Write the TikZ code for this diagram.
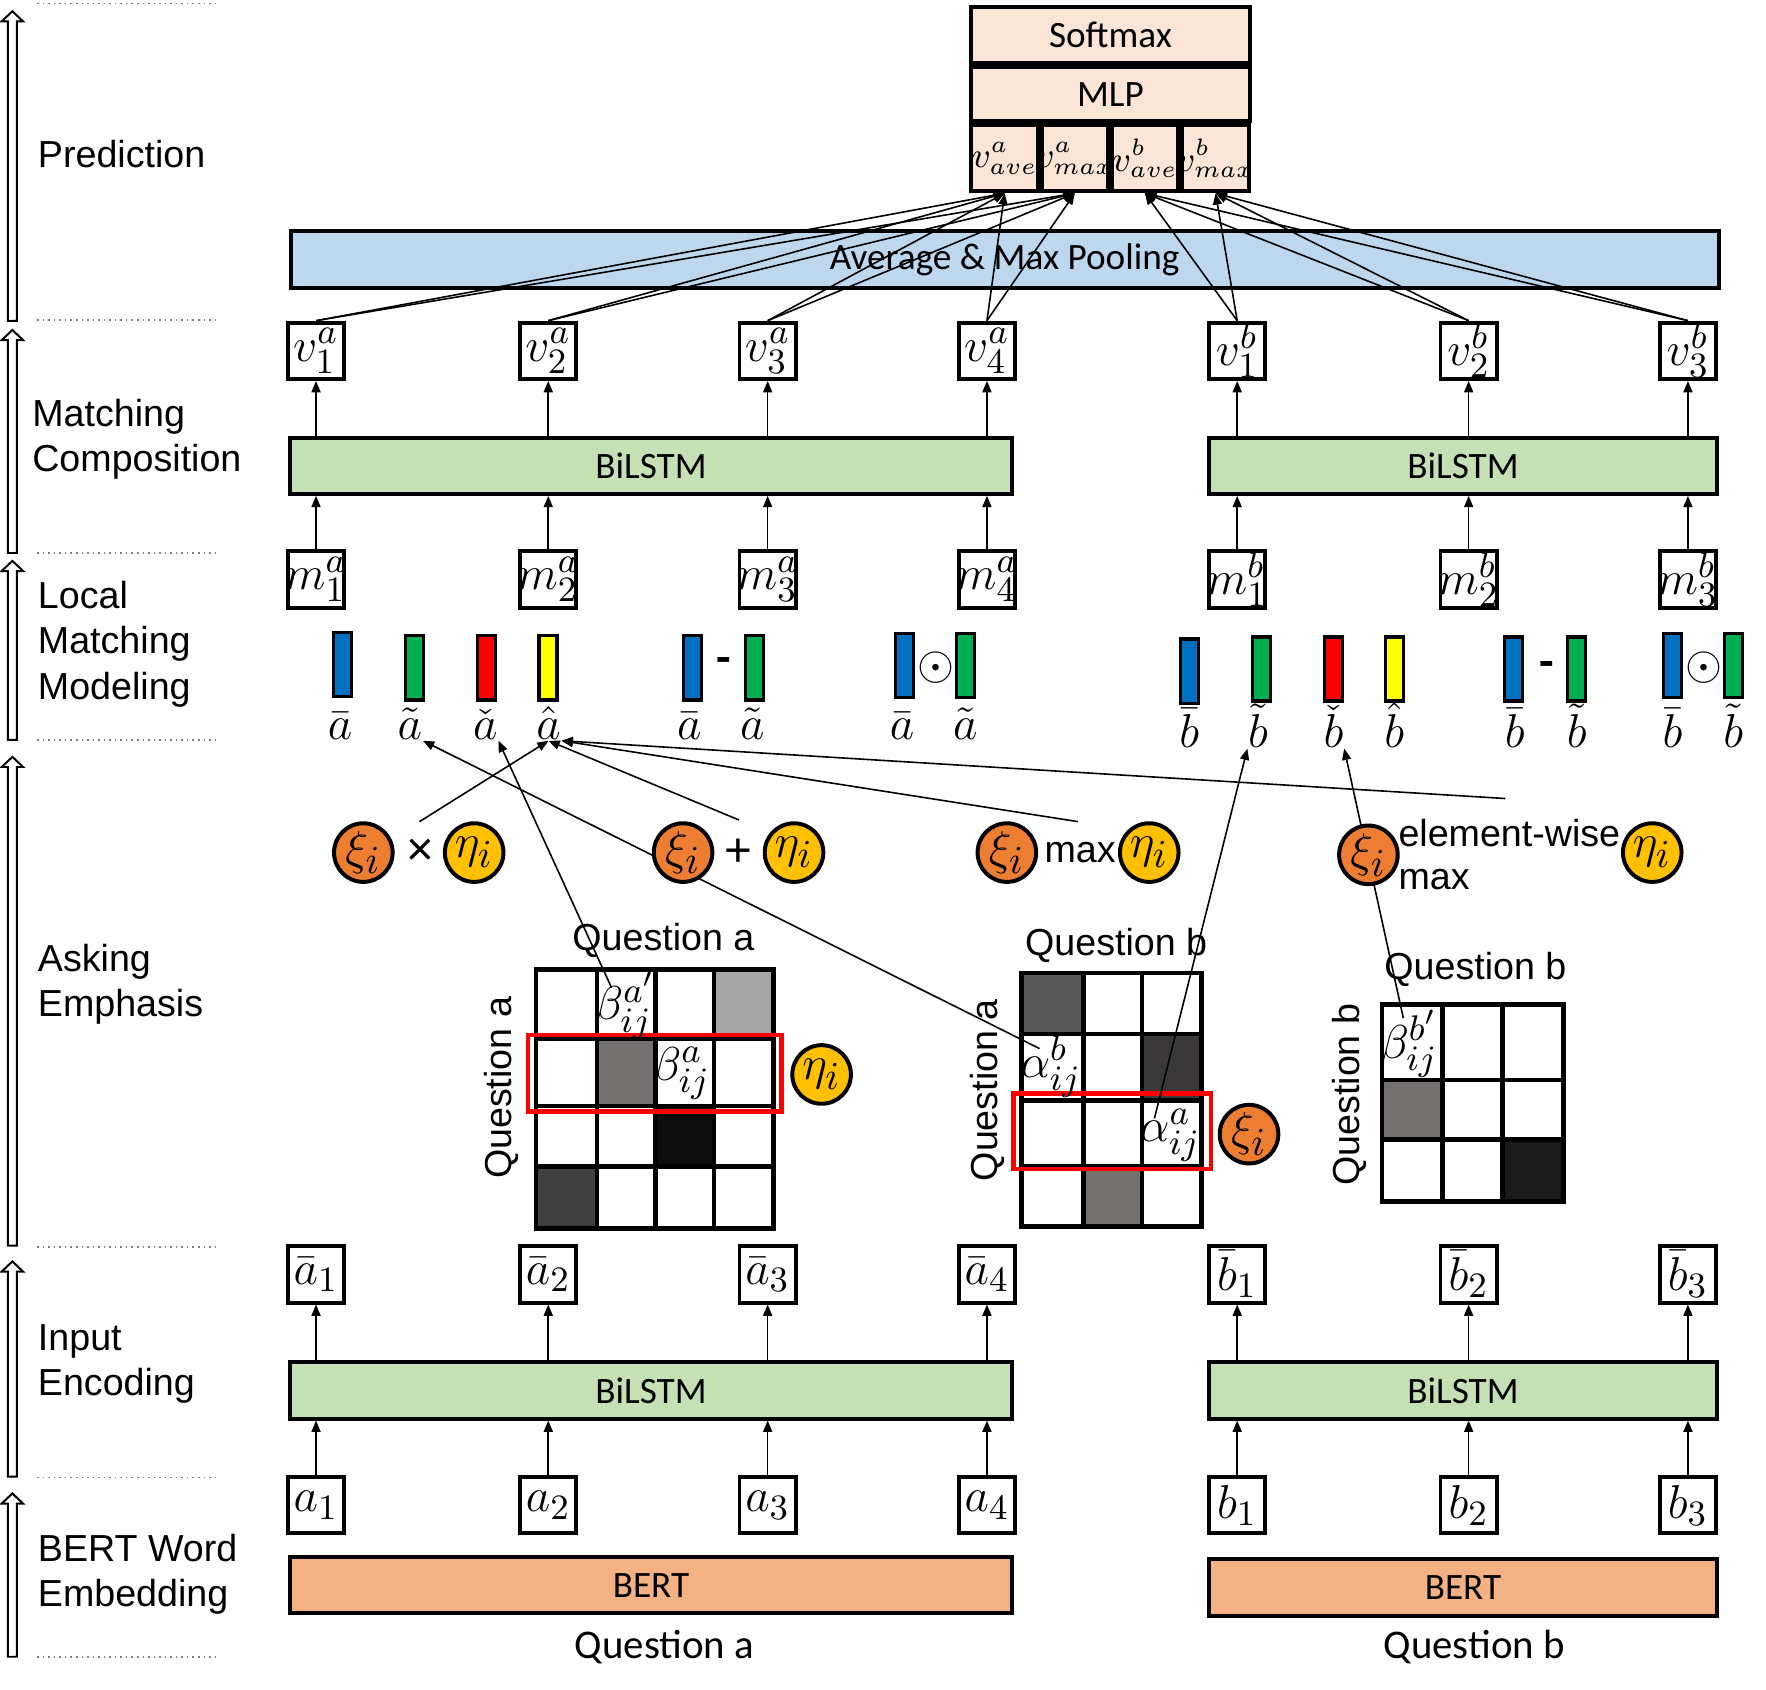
\documentclass[tikz,border=0pt]{standalone}
\usepackage{fontspec}
\newfontfamily\arialf{Liberation Sans}
\newfontfamily\calf{Carlito}
\DeclareMathSizes{9}{9}{6.5}{5}
\DeclareMathSizes{12}{12}{9}{7}
\DeclareMathSizes{13}{13}{10}{7}
\newcommand\zwbox[1]{\makebox[0pt]{#1}}
\usetikzlibrary{arrows.meta}
\definecolor{peach}{HTML}{FBE5D6}
\definecolor{pool}{HTML}{BDD7EE}
\definecolor{lstm}{HTML}{C5E0B4}
\definecolor{bert}{HTML}{F4B183}
\definecolor{cblue}{HTML}{0070C0}
\definecolor{cgreen}{HTML}{00B050}
\definecolor{cred}{HTML}{FF0000}
\definecolor{cyellow}{HTML}{FFFF00}
\definecolor{xiorange}{HTML}{ED7D31}
\definecolor{etagold}{HTML}{FFC000}
\definecolor{gA}{HTML}{A6A6A6}
\definecolor{gB}{HTML}{767171}
\definecolor{gC}{HTML}{0D0D0D}
\definecolor{gD}{HTML}{404040}
\definecolor{gE}{HTML}{595959}
\definecolor{gF}{HTML}{3A3838}
\definecolor{gG}{HTML}{1A1A1A}
\begin{document}
\begin{tikzpicture}[x=0.01cm,y=-0.01cm,
 vb/.style={draw,line width=1pt,fill=white,inner sep=0pt,minimum width=0.5cm,minimum height=0.5cm,font=\fontsize{12}{14}\selectfont},
 wb/.style={draw,line width=1pt,inner sep=0pt,minimum height=0.5cm,font=\calf\fontsize{9.4}{11}\selectfont},
 pb/.style={wb,fill=peach},
 lab/.style={anchor=west,align=left,inner sep=0pt,font=\arialf\fontsize{9.5}{11.4}\selectfont},
 txt/.style={inner sep=0pt,font=\arialf\fontsize{9.5}{11.4}\selectfont},
 cb/.style={draw,line width=0.85pt,inner sep=0pt,minimum width=0.16cm,minimum height=0.57cm},
 bl/.style={anchor=base,inner sep=0pt,font=\fontsize{12}{14}\selectfont},
 xic/.style={circle,draw,line width=1pt,fill=xiorange,inner sep=0pt,minimum size=0.52cm,font=\fontsize{13}{15}\selectfont},
 etac/.style={xic,fill=etagold},
 arr/.style={-{Triangle[length=0.1cm,width=0.08cm]},line width=0.4pt},
 mg/.style={line width=1.2pt},
 cellm/.style={inner sep=0pt,font=\fontsize{12}{14}\selectfont},
 dotl/.style={gray,line width=0.4pt,densely dotted},
 hol/.style={draw,line width=0.5pt,fill=white},
 opn/.style={inner sep=0pt,font=\arialf\fontsize{12}{14}\selectfont},
 vc/.style={pb,minimum width=0.59cm,minimum height=0.585cm,font=\fontsize{9}{11}\selectfont}
]
\useasboundingbox (0,0) rectangle (1568,1500);

% ---- left column: hollow arrows, dotted separators, labels
\foreach \yb/\yt in {285/10, 491/293, 657/498, 1106/672, 1311/1120, 1471/1326}{
  \draw[hol] (7,\yb) -- (7,\yt+9) -- (1.5,\yt+9) -- (11,\yt) -- (20.5,\yt+9) -- (15,\yt+9) -- (15,\yb) -- cycle;
}
\foreach \y in {3,284,491,657,1107,1312,1471}{
  \draw[dotl] (33,\y) -- (191,\y);
}
\node[lab] (lPred) at (33,137) {Prediction};
\node[lab] (lMC) at (28,390) {Matching\\Composition};
\node[lab] (lLMM) at (33,572) {Local\\Matching\\Modeling};
\node[lab] (lAE) at (33,874) {Asking\\Emphasis};
\node[lab] (lIE) at (33,1211) {Input\\Encoding};
\node[lab] (lBW) at (33,1398) {BERT Word\\Embedding};

% ---- prediction block
\node[pb,minimum width=2.47cm] (soft) at (986,31) {Softmax};
\node[pb,minimum width=2.47cm,minimum height=0.48cm] (mlp) at (986,83.6) {MLP};
\node[vc] (vavea) at (892,140.6) {\zwbox{$v^{a}_{ave}$}};
\node[vc] (vmaxa) at (954.3,140.6) {\zwbox{$v^{a}_{max}$}};
\node[vc] (vaveb) at (1016.6,140.6) {\zwbox{$v^{b}_{ave}$}};
\node[vc] (vmaxb) at (1079.3,140.6) {\zwbox{$v^{b}_{max}$}};

\node[wb,fill=pool,minimum width=12.67cm] (pool) at (892,230.5) {Average \& Max Pooling};

% ---- matching composition
\node[vb] (va1) at (280.6,311.5) {\zwbox{$v^a_1$}};
\node[vb] (va2) at (486.8,311.5) {\zwbox{$v^a_2$}};
\node[vb] (va3) at (681.6,311.5) {\zwbox{$v^a_3$}};
\node[vb] (va4) at (876.3,311.5) {\zwbox{$v^a_4$}};
\node[vb] (vb1) at (1098.5,311.5) {\zwbox{$v^b_1$}};
\node[vb] (vb2) at (1304,311.5) {\zwbox{$v^b_2$}};
\node[vb] (vb3) at (1498.7,311.5) {\zwbox{$v^b_3$}};

\node[wb,fill=lstm,minimum width=6.41cm] (lstmA) at (578,413.5) {BiLSTM};
\node[wb,fill=lstm,minimum width=4.5cm] (lstmB) at (1299,413.5) {BiLSTM};

\node[vb] (ma1) at (280.6,514.5) {\zwbox{$m^a_1$}};
\node[vb] (ma2) at (486.8,514.5) {\zwbox{$m^a_2$}};
\node[vb] (ma3) at (681.6,514.5) {\zwbox{$m^a_3$}};
\node[vb] (ma4) at (876.3,514.5) {\zwbox{$m^a_4$}};
\node[vb] (mb1) at (1098.5,514.5) {\zwbox{$m^b_1$}};
\node[vb] (mb2) at (1304,514.5) {\zwbox{$m^b_2$}};
\node[vb] (mb3) at (1498.7,514.5) {\zwbox{$m^b_3$}};

\foreach \i in {1,2,3,4}{
  \draw[arr] (va\i.south |- lstmA.north) -- (va\i.south);
  \draw[arr] (ma\i.north) -- (ma\i.north |- lstmA.south);
}
\foreach \i in {1,2,3}{
  \draw[arr] (vb\i.south |- lstmB.north) -- (vb\i.south);
  \draw[arr] (mb\i.north) -- (mb\i.north |- lstmB.south);
}

% ---- local matching bars
\node[cb,fill=cblue] (bA1) at (304,590) {};
\node[cb,fill=cgreen] (bA2) at (368,593) {};
\node[cb,fill=cred] (bA3) at (432,593) {};
\node[cb,fill=cyellow] (bA4) at (486.7,593) {};
\node[cb,fill=cblue] (bA5) at (615,593) {};
\node[cb,fill=cgreen] (bA6) at (670,593) {};
\node[cb,fill=cblue] (bA7) at (803,591) {};
\node[cb,fill=cgreen] (bA8) at (857.5,591) {};
\node[opn,font=\calf\bfseries\fontsize{12}{14}\selectfont] (mnA) at (643,591) {-};
\node[opn,font=\fontsize{13}{15}\selectfont] (odA) at (831,593) {$\odot$};

\node[cb,fill=cblue] (bB1) at (1056,596) {};
\node[cb,fill=cgreen] (bB2) at (1120,594) {};
\node[cb,fill=cred] (bB3) at (1184,594) {};
\node[cb,fill=cyellow] (bB4) at (1238,594) {};
\node[cb,fill=cblue] (bB5) at (1344,594) {};
\node[cb,fill=cgreen] (bB6) at (1400,594) {};
\node[cb,fill=cblue] (bB7) at (1485,591) {};
\node[cb,fill=cgreen] (bB8) at (1539.4,591) {};
\node[opn,font=\calf\bfseries\fontsize{12}{14}\selectfont] (mnB) at (1373.5,594) {-};
\node[opn,font=\fontsize{13}{15}\selectfont] (odB) at (1513,593) {$\odot$};

\node[bl] (la1) at (302,657) {$\bar a$};
\node[bl] (la2) at (364,657) {$\tilde a$};
\node[bl] (la3) at (431,657) {$\check a$};
\node[bl] (la4) at (487,657) {$\hat a$};
\node[bl] (la5) at (612,657) {$\bar a$};
\node[bl] (la6) at (668,657) {$\tilde a$};
\node[bl] (la7) at (801,657) {$\bar a$};
\node[bl] (la8) at (857,657) {$\tilde a$};
\node[bl] (lb1) at (1056,664) {$\bar b$};
\node[bl] (lb2) at (1117,664) {$\tilde b$};
\node[bl] (lb3) at (1184,664) {$\check b$};
\node[bl] (lb4) at (1238,664) {$\hat b$};
\node[bl] (lb5) at (1345,664) {$\bar b$};
\node[bl] (lb6) at (1400,664) {$\tilde b$};
\node[bl] (lb7) at (1485,664) {$\bar b$};
\node[bl] (lb8) at (1539,664) {$\tilde b$};

% ---- matrices
% matrix 1
\fill[gA] (634,861) rectangle (687,922);
\fill[gB] (530,922) rectangle (582,982);
\fill[gC] (582,982) rectangle (634,1036);
\fill[gD] (476,1036) rectangle (530,1091);
\draw[mg] (476,861) rectangle (687,1091);
\foreach \x in {530,582,634}{\draw[mg] (\x,861) -- (\x,1091);}
\foreach \y in {922,982,1036}{\draw[mg] (476,\y) -- (687,\y);}
\draw[red,line width=1.1pt] (469,919) rectangle (694,987);
% matrix 2
\fill[gE] (907,864) rectangle (962,918);
\fill[gF] (1014,918) rectangle (1067,977);
\fill[gB] (962,1036) rectangle (1014,1089);
\draw[mg] (907,864) rectangle (1067,1089);
\foreach \x in {962,1014}{\draw[mg] (\x,864) -- (\x,1089);}
\foreach \y in {918,977,1036}{\draw[mg] (907,\y) -- (1067,\y);}
\draw[red,line width=1.1pt] (900,971) rectangle (1075,1038);
% matrix 3
\fill[gB] (1227,959) rectangle (1281,1012);
\fill[gG] (1334,1012) rectangle (1388,1067);
\draw[mg] (1227,892) rectangle (1388,1067);
\foreach \x in {1281,1334}{\draw[mg] (\x,892) -- (\x,1067);}
\foreach \y in {959,1012}{\draw[mg] (1227,\y) -- (1388,\y);}

\node[cellm] (bap) at (555,893) {\zwbox{$\beta^{a'}_{ij}$}};
\node[cellm] (ba) at (605,953) {\zwbox{$\beta^{a}_{ij}$}};
\node[cellm] (ab) at (933,947) {\zwbox{$\alpha^{b}_{ij}$}};
\node[cellm] (aa) at (1039,1008) {\zwbox{$\alpha^{a}_{ij}$}};
\node[cellm] (bbp) at (1251,927) {\zwbox{$\beta^{b'}_{ij}$}};

\node[txt] (t1) at (589,835) {Question a};
\node[txt,rotate=90] (r1) at (445,966) {Question a};
\node[txt] (t2) at (991,839) {Question b};
\node[txt,rotate=90] (r2) at (877,968) {Question a};
\node[txt] (t3) at (1310,861) {Question b};
\node[txt,rotate=90] (r3) at (1198,972) {Question b};

% ---- input encoding
\node[vb] (ba1) at (280.6,1131.5) {\zwbox{$\bar a_1$}};
\node[vb] (ba2) at (486.8,1131.5) {\zwbox{$\bar a_2$}};
\node[vb] (ba3) at (681.6,1131.5) {\zwbox{$\bar a_3$}};
\node[vb] (ba4) at (876.3,1131.5) {\zwbox{$\bar a_4$}};
\node[vb] (bb1) at (1098.5,1131.5) {\zwbox{$\bar b_1$}};
\node[vb] (bb2) at (1304,1131.5) {\zwbox{$\bar b_2$}};
\node[vb] (bb3) at (1498.7,1131.5) {\zwbox{$\bar b_3$}};
\node[wb,fill=lstm,minimum width=6.41cm] (lstmA2) at (578,1234.5) {BiLSTM};
\node[wb,fill=lstm,minimum width=4.5cm] (lstmB2) at (1299,1234.5) {BiLSTM};
\node[vb] (a1) at (280.6,1336.5) {\zwbox{$a_1$}};
\node[vb] (a2) at (486.8,1336.5) {\zwbox{$a_2$}};
\node[vb] (a3) at (681.6,1336.5) {\zwbox{$a_3$}};
\node[vb] (a4) at (876.3,1336.5) {\zwbox{$a_4$}};
\node[vb] (b1) at (1098.5,1336.5) {\zwbox{$b_1$}};
\node[vb] (b2) at (1304,1336.5) {\zwbox{$b_2$}};
\node[vb] (b3) at (1498.7,1336.5) {\zwbox{$b_3$}};
\node[wb,fill=bert,minimum width=6.41cm] (bertA) at (578,1407.5) {BERT};
\node[wb,fill=bert,minimum width=4.5cm] (bertB) at (1299,1409.5) {BERT};
\node[inner sep=0pt,font=\calf\fontsize{10.3}{12}\selectfont] (qa) at (590,1462) {Question a};
\node[inner sep=0pt,font=\calf\fontsize{10.3}{12}\selectfont] (qb) at (1309,1462) {Question b};

\foreach \i in {1,2,3,4}{
  \draw[arr] (ba\i.south |- lstmA2.north) -- (ba\i.south);
  \draw[arr] (a\i.north) -- (a\i.north |- lstmA2.south);
}
\foreach \i in {1,2,3}{
  \draw[arr] (bb\i.south |- lstmB2.north) -- (bb\i.south);
  \draw[arr] (b\i.north) -- (b\i.north |- lstmB2.south);
}

% ---- pooling connectors
\foreach \i in {1,2,3,4}{
  \draw[arr] (va\i.north) -- (vavea.south);
  \draw[arr] (va\i.north) -- (vmaxa.south);
}
\foreach \i in {1,2,3}{
  \draw[arr] (vb\i.north) -- (vaveb.south);
  \draw[arr] (vb\i.north) -- (vmaxb.south);
}

% ---- asking emphasis connectors
\coordinate (sx) at (372.5,729.5);
\coordinate (sp) at (656,728);
\coordinate (sm) at (957,729.5);
\coordinate (se) at (1336.5,709);
\coordinate (sbap) at (543,877);
\coordinate (sab) at (923,931);
\coordinate (saa) at (1025,993);
\coordinate (sbbp) at (1246,904);
\draw[arr] (sx) -- (la4.south);
\draw[arr] (sp) -- (la4.south);
\draw[arr] (sm) -- (la4.south east);
\draw[arr] (se) -- (la4.south east);
\draw[arr] (sab) -- (la2.south east);
\draw[arr] (sbap) -- (la3.south east);
\draw[arr] (saa) -- (lb2.south west);
\draw[arr] (sbbp) -- (lb3.south east);

% ---- circles
\node[xic] (x1) at (322.6,757) {$\xi_i$};
\node[opn] (op1) at (373,757) {×};
\node[etac] (e1) at (421,757) {$\eta_i$};
\node[xic] (x2) at (606.5,757) {$\xi_i$};
\node[opn] (op2) at (656,757) {+};
\node[etac] (e2) at (705,757) {$\eta_i$};
\node[xic] (x3) at (894,757) {$\xi_i$};
\node[txt] (op3) at (959,757) {max};
\node[etac] (e3) at (1020.4,757) {$\eta_i$};
\node[xic] (x4) at (1215,759) {$\xi_i$};
\node[lab,font=\arialf\fontsize{9.5}{10.8}\selectfont] (op4) at (1241,759) {element-wise\\max};
\node[etac] (e4) at (1467,757) {$\eta_i$};

\node[etac] (eta1) at (729.5,954) {$\eta_i$};
\node[xic] (xi0) at (1109,1007) {$\xi_i$};
\end{tikzpicture}
\end{document}
